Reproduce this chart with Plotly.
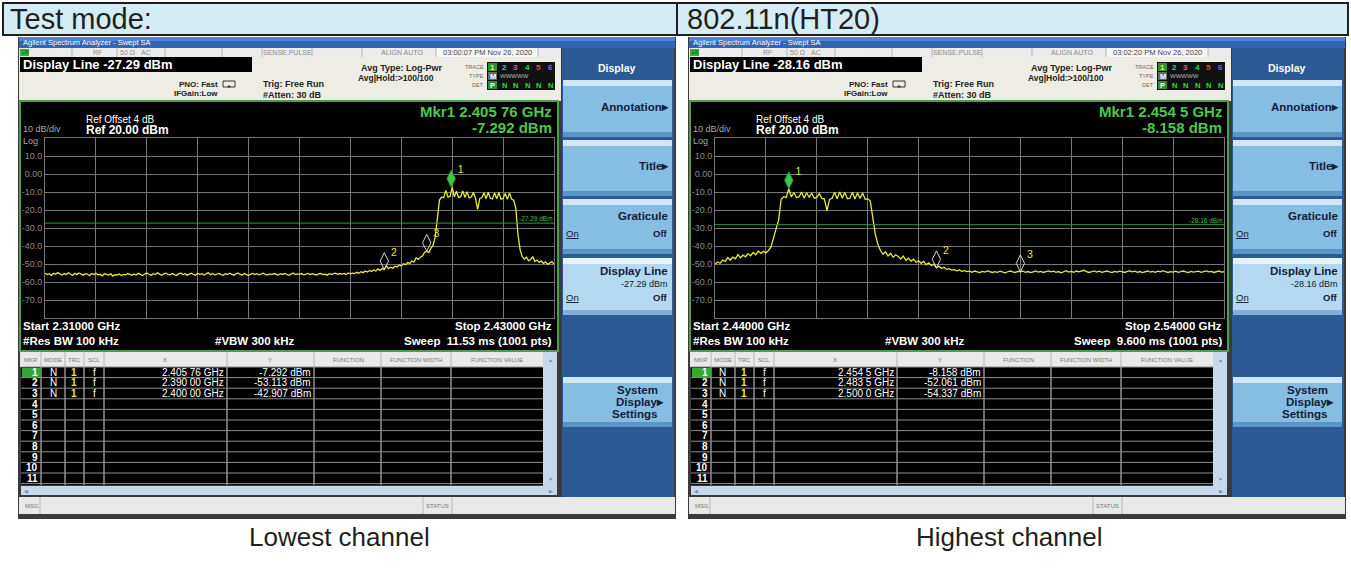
import numpy as np
import plotly.graph_objects as go

W, H = 1351, 581
FONT = "Liberation Sans, Arial, sans-serif"

# ---------------- data ----------------
STEP_GHZ = 0.0005   # analyzer sweep step used for the transcribed trace points

# Lowest channel trace (dBm), segment start frequencies in GHz
low_floor_start = 2.3100
low_floor = [
    -55.2, -55.9, -55.4, -56.3, -55.1, -55.7, -54.8, -55.6, -56.1, -55.3,
    -55.8, -54.9, -55.5, -56.4, -55.2, -55.9, -55.0, -55.7, -56.2, -55.4,
    -55.6, -56.5, -55.3, -55.9, -55.1, -56.0, -55.7, -56.6, -55.4, -55.8,
    -56.2, -55.5, -56.7, -55.9, -56.1, -55.6, -56.4, -55.8, -56.0, -55.3,
    -55.9, -56.3, -55.5, -56.1, -55.2, -55.8, -56.4, -55.6, -55.0, -55.7,
    -56.2, -55.4, -55.9, -54.9, -55.6, -56.3, -55.5, -55.1, -55.8, -56.0,
    -55.3, -55.7, -56.4, -55.5, -55.0, -55.9, -55.4, -56.2, -55.6, -55.1,
    -55.8, -56.3, -55.2, -55.7, -55.4, -56.1, -55.5, -54.8, -55.9, -55.3,
    -56.0, -55.6, -55.2, -55.9, -56.3, -55.4, -55.8, -55.1, -55.7, -56.2,
    -55.5, -55.0, -55.8, -56.1, -55.3, -55.7, -56.4, -55.6, -55.2, -55.9,
    -55.4, -56.0, -55.7, -55.1, -55.8, -56.2, -55.5, -55.9, -55.3, -55.6,
    -56.1, -55.4, -55.8, -55.2, -55.7, -56.3, -55.6, -55.0, -55.9, -55.5,
    -55.8, -55.3, -56.0, -55.6, -55.2, -55.9, -55.4, -55.7, -56.1, -55.5,
    -55.3, -55.9, -55.6, -56.2, -55.4, -55.8, -55.5, -55.1, -55.7, -55.3,
    -55.6, -55.2, -55.8, -55.0, -55.5, -55.1,
]
low_rise_start = 2.3830
low_rise = [
    -55.3, -54.6, -55.1, -54.3, -54.8, -53.9, -54.5, -53.6, -54.2, -53.3,
    -53.9, -52.7, -53.5, -52.4, -53.1, -51.0, -52.6, -51.8, -52.3, -51.2,
    -51.7, -50.6, -51.1, -49.9, -50.4, -49.2, -49.7, -48.3, -48.9, -46.5,
    -47.4, -46.2, -45.6, -43.5, -42.9, -43.6, -41.2, -39.5, -35.0, -26.0,
    -14.5,
]
low_band_start = 2.4035
low_band = [
    -12.8, -13.2, -9.1, -12.9, -12.5, -7.3, -12.7, -9.6, -13.1, -12.6,
    -9.4, -13.0, -9.8, -13.3, -12.8, -10.2, -13.4, -19.6, -13.6, -13.2,
    -10.4, -13.7, -10.1, -13.5, -13.9, -10.6, -13.8, -10.3, -14.0, -13.6,
    -10.8, -14.1, -10.5, -13.9, -14.6, -19.0, -33.5,
]
low_tail_start = 2.4220
low_tail = [
    -42.0, -45.8, -47.3, -46.1, -48.2, -47.5, -45.9, -48.6, -47.8, -49.1,
    -48.3, -49.6, -48.8, -50.2, -49.4, -48.7, -50.1,
]

# Highest channel trace (dBm)
high_low_start = 2.4400
high_low = [
    -50.2, -48.9, -49.6, -47.8, -48.5, -46.4, -47.9, -46.2, -47.1, -44.8,
    -46.5, -45.1, -46.0, -44.2, -45.4, -43.6, -44.9, -42.8, -44.1, -43.0,
    -43.8, -42.5,
]
high_rise_start = 2.4510
high_rise = [-40.5, -36.0, -30.5, -25.5, -14.0]
high_band_start = 2.4535
high_band = [
    -12.6, -13.0, -8.2, -12.8, -10.3, -13.1, -12.7, -10.0, -13.3, -10.4,
    -12.9, -10.7, -13.4, -13.0, -10.9, -13.6, -13.9, -20.3, -14.1, -13.5,
    -10.2, -13.7, -10.0, -13.4, -10.3, -13.8, -13.5, -10.1, -13.9, -10.4,
    -13.6, -10.6, -14.0, -13.8, -14.9,
]
high_fall_start = 2.4710
high_fall = [-24.0, -33.5, -39.0, -42.5, -44.6]
high_shoulder_start = 2.4735
high_shoulder = [
    -43.2, -45.5, -44.1, -46.3, -44.9, -45.8, -47.2, -45.6, -47.9, -46.8,
    -48.4, -47.3, -49.0, -48.2, -49.6, -48.5, -50.3, -49.4, -50.8, -50.1,
    -52.1, -51.2, -52.5, -51.8, -53.0, -52.6, -53.4, -53.1, -53.8, -53.3,
    -54.1, -53.7, -54.2,
]
high_floor_start = 2.4900
high_floor = [
    -54.0, -54.6, -53.9, -54.4, -54.8, -54.1, -54.5, -53.8, -54.3, -54.7,
    -54.2, -54.6, -54.0, -54.5, -54.9, -54.3, -53.9, -54.4, -54.7, -54.1,
    -54.3, -54.0, -54.6, -54.2, -54.8, -54.4, -53.9, -54.5, -54.1, -54.7,
    -54.3, -53.8, -54.4, -54.0, -54.6, -54.2, -54.9, -54.3, -53.7, -54.5,
    -54.1, -54.6, -53.9, -54.4, -54.0, -53.5, -54.2, -54.7, -54.3, -53.8,
    -54.5, -54.0, -54.6, -54.2, -53.9, -54.4, -54.8, -54.1, -54.5, -54.0,
    -54.3, -54.7, -54.1, -53.8, -54.4, -54.0, -54.6, -54.2, -54.8, -54.3,
    -53.9, -54.5, -54.1, -54.6, -54.0, -54.4, -53.7, -54.3, -54.7, -54.2,
    -54.5, -54.0, -54.6, -54.3, -53.9, -54.4, -54.8, -54.1, -54.5, -54.2,
    -54.0, -54.6, -54.3, -53.8, -54.4, -54.1, -54.7, -54.2, -53.9, -54.5,
    -54.3,
]

# markers
low_marker_freq = [2.40576, 2.39000, 2.40000]
low_marker_level = [-7.292, -53.113, -42.907]
high_marker_freq = [2.4545, 2.4835, 2.5000]
high_marker_level = [-8.158, -52.061, -54.337]
marker_names = ["1", "2", "3"]

# axes
low_span = [2.310, 2.430]
high_span = [2.440, 2.540]
ref_level = 20.0
bottom_level = -80.0
y_tick_vals = [10, 0, -10, -20, -30, -40, -50, -60, -70]
y_tick_text = ["10.0", "0.00", "-10.0", "-20.0", "-30.0", "-40.0", "-50.0", "-60.0", "-70.0"]

low_display_line = -27.29
high_display_line = -28.16

low_table_x = ["2.405 76 GHz", "2.390 00 GHz", "2.400 00 GHz"]
low_table_y = ["-7.292 dBm", "-53.113 dBm", "-42.907 dBm"]
high_table_x = ["2.454 5 GHz", "2.483 5 GHz", "2.500 0 GHz"]
high_table_y = ["-8.158 dBm", "-52.061 dBm", "-54.337 dBm"]


def sweep(segments):
    fs, vs = [], []
    for start, vals in segments:
        fs.extend(start + STEP_GHZ * np.arange(len(vals)))
        vs.extend(vals)
    return np.round(np.array(fs), 5), np.array(vs)


low_f, low_v = sweep([(low_floor_start, low_floor), (low_rise_start, low_rise),
                      (low_band_start, low_band), (low_tail_start, low_tail)])
high_f, high_v = sweep([(high_low_start, high_low), (high_rise_start, high_rise),
                        (high_band_start, high_band), (high_fall_start, high_fall),
                        (high_shoulder_start, high_shoulder), (high_floor_start, high_floor)])

# ---------------- drawing helpers ----------------
shapes, annotations = [], []


def R(x0, y0, x1, y1, fill, line=None, lw=0):
    shapes.append(dict(type="rect", xref="paper", yref="paper",
                       x0=x0 / W, x1=x1 / W, y0=1 - y1 / H, y1=1 - y0 / H,
                       fillcolor=fill, line=dict(color=line if line else fill, width=lw),
                       layer="below"))


def L(x0, y0, x1, y1, color, w=1):
    shapes.append(dict(type="line", xref="paper", yref="paper",
                       x0=x0 / W, x1=x1 / W, y0=1 - y0 / H, y1=1 - y1 / H,
                       line=dict(color=color, width=w), layer="below"))


def T(x, y, s, size, color, anchor="left", bold=False, family=FONT, align="left"):
    annotations.append(dict(xref="paper", yref="paper", x=x / W, y=1 - y / H,
                            text=f"<b>{s}</b>" if bold else s, showarrow=False,
                            xanchor=anchor, yanchor="middle", borderpad=0, align=align,
                            font=dict(family=family, size=size, color=color)))


def button(x0, y0, x1, y1, selected=False):
    if selected:
        R(x0, y0, x1, y1, "#b3d8f0")
        R(x0, y0, x1, y0 + 6, "#e6f3fb")
        R(x0, y1 - 5, x1, y1, "#7fb2da")
    else:
        R(x0, y0, x1, y1, "#86bde3")
        R(x0, y0, x1, y0 + 6, "#cfe7f7")
        R(x0, y1 - 5, x1, y1, "#5b95c6")


def shot(ox, P):
    X = lambda v: v + ox
    # frame
    R(X(18), 37, X(676), 519, "#3b3b3b")
    # title bar
    R(X(19), 37, X(675), 48, "#3464b5")
    R(X(19), 37, X(675), 41, "#5282d0")
    T(X(22), 42.5, "Agilent Spectrum Analyzer - Swept SA", 7.5, "#ffffff")
    # status row
    R(X(19), 48, X(561), 57, "#ececec")
    R(X(436), 48, X(538), 57, "#f7f7f7")
    R(X(20), 49, X(29), 56, "#36b236")
    T(X(20.5), 52.5, "LXI", 4.5, "#0b3b0b")
    for sx in [72, 117, 165, 222, 262, 312, 362, 436, 538]:
        L(X(sx), 48, X(sx), 57, "#b5b5b5")
    T(X(97), 52.5, "RF", 7, "#8a8a8a", "center")
    T(X(127), 52.5, "50 Ω", 7, "#8a8a8a", "center")
    T(X(146), 52.5, "AC", 7, "#8a8a8a", "center")
    T(X(287), 52.5, "SENSE:PULSE", 7, "#8a8a8a", "center")
    T(X(402), 52.5, "ALIGN AUTO", 7, "#8a8a8a", "center")
    T(X(487), 52.5, P["timestamp"], 7.5, "#444444", "center")
    # info area
    R(X(19), 57, X(561), 101, "#eeede5")
    R(X(20), 57, X(252), 72, "#000000")
    T(X(22), 64.5, f"Display Line {P['dl']:.2f} dBm", 13, "#ffffff", bold=True)
    T(X(219), 84, "PNO: Fast", 8, "#222222", "right", True)
    T(X(219), 94, "IFGain:Low", 8, "#222222", "right", True)
    R(X(223), 81, X(235), 87, "rgba(0,0,0,0)", "#333333", 1)
    T(X(229), 85.5, "▸", 6, "#333333", "center")
    T(X(262), 84, "Trig: Free Run", 9, "#222222", "left", True)
    T(X(262), 95, "#Atten: 30 dB", 9, "#222222", "left", True)
    T(X(360), 68, "Avg Type: Log-Pwr", 9, "#222222", "left", True)
    T(X(357), 78, "Avg|Hold:&gt;100/100", 8.5, "#222222", "left", True)
    T(X(485), 67, "TRACE", 5.5, "#666666", "right")
    T(X(485), 76, "TYPE", 5.5, "#666666", "right")
    T(X(485), 85, "DET", 5.5, "#666666", "right")
    R(X(487), 62, X(555), 90, "#111111")
    cols = [492.5, 504, 515.5, 527, 538.5, 550]
    tcol = ["#f0f040", "#33c8ea", "#e05aa0", "#3ed43e", "#e84848", "#6f6fff"]
    R(X(488), 63, X(497), 71, "#2d8f2d")
    for i, c in enumerate(cols):
        T(X(c), 67, str(i + 1), 8, tcol[i], "center", True)
    R(X(488), 72, X(497), 80, "#666666")
    T(X(492.5), 76, "M", 7.5, "#ffffff", "center", True)
    T(X(499), 76, "WWWWW", 6, "#bbbbbb", "left")
    R(X(488), 81, X(497), 89, "#2d8f2d")
    T(X(492.5), 85, "P", 7.5, "#ffffff", "center", True)
    for c in cols[1:]:
        T(X(c), 85, "N", 7.5, "#3ed43e", "center", True)

    # soft key panel
    R(X(562), 48, X(674), 497, "#2b5a95")
    T(X(617), 68, "Display", 10.5, "#ffffff", "center", True)
    button(X(563), 80, X(672), 137)
    button(X(563), 140, X(672), 196)
    button(X(563), 199, X(672), 254)
    button(X(563), 258, X(672), 315, selected=True)
    button(X(563), 377, X(672), 427)
    kc = "#13203a"
    T(X(670), 107, "Annotation▸", 11.5, kc, "right", True)
    T(X(670), 166, "Title▸", 11.5, kc, "right", True)
    T(X(669), 216, "Graticule", 11.5, kc, "right", True)
    T(X(565), 233, "<u>On</u>", 9.5, kc, "left")
    T(X(669), 233, "Off", 9.5, kc, "right", True)
    T(X(669), 271, "Display Line", 11.5, kc, "right", True)
    T(X(669), 284, f"{P['dl']:.2f} dBm", 9, kc, "right")
    T(X(565), 297, "<u>On</u>", 9.5, kc, "left")
    T(X(669), 297, "Off", 9.5, kc, "right", True)
    T(X(637), 390, "System", 11.5, kc, "center", True)
    T(X(640), 402, "Display▸", 11.5, kc, "center", True)
    T(X(634), 414, "Settings", 11.5, kc, "center", True)

    # plot frame
    R(X(20), 101, X(558), 351, "#000000", "#4aa04a", 2)
    T(X(85), 119, "Ref Offset 4 dB", 10, "#ffffff")
    T(X(85), 130.5, "Ref 20.00 dBm", 12, "#ffffff", bold=True)
    T(X(22), 134.5, "10 dB/div<br>Log", 9, "#a8a8a8")
    T(X(553), 112, f"Mkr1 {P['mx']}", 15, "#4fc64f", "right", True)
    T(X(553), 128, P["my"], 15, "#4fc64f", "right", True)
    T(X(22), 326, P["start"], 11.5, "#ffffff", "left", True)
    T(X(553), 326, P["stop"], 11.5, "#ffffff", "right", True)
    T(X(22), 341, "#Res BW 100 kHz", 11.5, "#ffffff", "left", True)
    T(X(255), 341, "#VBW 300 kHz", 11.5, "#ffffff", "center", True)
    T(X(553), 341, P["sweep"], 11.5, "#ffffff", "right", True)

    # marker table
    R(X(20), 352, X(557), 367, "#e9e9e9")
    R(X(21), 367, X(543), 485, "#000000")
    R(X(543), 352, X(557), 486, "#c9d7ea")
    R(X(21), 486, X(557), 495, "#c9d7ea")
    T(X(550), 360, "▲", 5, "#6d8fbf", "center")
    T(X(550), 479, "▼", 5, "#6d8fbf", "center")
    T(X(26), 490.5, "◀", 5, "#6d8fbf", "center")
    T(X(551), 490.5, "▶", 5, "#6d8fbf", "center")
    colx = [41, 65, 84, 104, 227, 314, 381, 451]
    for cx in colx:
        L(X(cx), 352, X(cx), 367, "#b8b8b8")
        L(X(cx), 367, X(cx), 485, "#d8d8d8")
    for k in range(12):
        yy = 367 + 10.6 * k
        L(X(21), yy, X(543), yy, "#8f8f8f")
    hdr = [(31, "MKR"), (53, "MODE"), (74, "TRC"), (94, "SCL"), (165, "X"), (270, "Y"),
           (348, "FUNCTION"), (416, "FUNCTION WIDTH"), (497, "FUNCTION VALUE")]
    for hx, hs in hdr:
        T(X(hx), 360, hs, 6, "#777777", "center")
    R(X(22), 368, X(41), 377, "#33a833")
    for r in range(11):
        yy = 372.3 + 10.6 * r
        T(X(39), yy, str(r + 1), 10, "#ffffff", "right", True)
    for r in range(3):
        yy = 372.3 + 10.6 * r
        T(X(53), yy, "N", 10, "#ffffff", "center")
        T(X(74), yy, "1", 10, "#e8e83a", "center", True)
        T(X(94), yy, "f", 10, "#ffffff", "center")
        T(X(225), yy, P["tx"][r], 10, "#ffffff", "right")
        T(X(312), yy, P["ty"][r], 10, "#ffffff", "right")

    # message bar
    R(X(19), 497, X(675), 514, "#e8e8e8")
    L(X(40), 497, X(40), 514, "#b8b8b8")
    L(X(423), 497, X(423), 514, "#b8b8b8")
    L(X(452), 497, X(452), 514, "#b8b8b8")
    T(X(24), 505.5, "MSG", 6, "#777777")
    T(X(437.5), 505.5, "STATUS", 6, "#777777", "center")

    # caption
    T(X(339), 537, P["caption"], 26, "#231f20", "center")


# header boxes
R(3, 3, 677, 35, "#d4edf5", "#1f1f1f", 2)
R(677, 3, 1348, 35, "#d4edf5", "#1f1f1f", 2)
T(9, 19.5, "Test mode:", 29, "#231f20")
T(686, 19.5, "802.11n(HT20)", 29, "#231f20")

shot(0, dict(timestamp="03:00:07 PM Nov 26, 2020", dl=low_display_line,
             mx="2.405 76 GHz", my="-7.292 dBm", start="Start 2.31000 GHz",
             stop="Stop 2.43000 GHz", sweep="Sweep  11.53 ms (1001 pts)",
             tx=low_table_x, ty=low_table_y, caption="Lowest channel"))
shot(670, dict(timestamp="03:02:20 PM Nov 26, 2020", dl=high_display_line,
               mx="2.454 5 GHz", my="-8.158 dBm", start="Start 2.44000 GHz",
               stop="Stop 2.54000 GHz", sweep="Sweep  9.600 ms (1001 pts)",
               tx=high_table_x, ty=high_table_y, caption="Highest channel"))

# ---------------- traces ----------------
fig = go.Figure()
YELLOW = "#e8e83a"
MARK_LIFT_DB = 4.7   # diamond sits with its lower tip on the trace
LABEL_LIFT_DB = 4.5  # marker number sits above the diamond centre


def add_panel(f, v, mf, mv, dl, xa, ya):
    fig.add_trace(go.Scatter(x=f, y=v, mode="lines", line=dict(color=YELLOW, width=1.3),
                             xaxis=xa, yaxis=ya, hoverinfo="skip", showlegend=False))
    fig.add_trace(go.Scatter(x=mf[:1], y=[m + MARK_LIFT_DB for m in mv[:1]], mode="markers",
                             marker=dict(symbol="diamond-tall", size=12, color="#3cc84c",
                                         line=dict(color="#2a9a38", width=1)),
                             xaxis=xa, yaxis=ya, hoverinfo="skip", showlegend=False, cliponaxis=False))
    fig.add_trace(go.Scatter(x=mf[1:], y=[m + MARK_LIFT_DB for m in mv[1:]], mode="markers",
                             marker=dict(symbol="diamond-tall-open", size=12, color="#d4d4d4",
                                         line=dict(width=1)),
                             xaxis=xa, yaxis=ya, hoverinfo="skip", showlegend=False, cliponaxis=False))
    fig.add_trace(go.Scatter(x=mf, y=[m + MARK_LIFT_DB + LABEL_LIFT_DB for m in mv],
                             mode="markers+text", marker=dict(size=9, opacity=0),
                             text=marker_names, textposition="middle right",
                             textfont=dict(color=YELLOW, size=10.5, family=FONT),
                             xaxis=xa, yaxis=ya, hoverinfo="skip", showlegend=False, cliponaxis=False))
    xr = xa + " domain"
    shapes.append(dict(type="line", xref=xr, yref=ya, x0=0, x1=1, y0=dl, y1=dl,
                       line=dict(color="#2f9a3f", width=1)))
    annotations.append(dict(xref=xr, yref=ya, x=1, y=dl, text=f"{dl:.2f} dBm", showarrow=False,
                            xanchor="right", yanchor="bottom", borderpad=0,
                            font=dict(family=FONT, size=6.5, color="#3fbf4f")))


add_panel(low_f, low_v, low_marker_freq, low_marker_level, low_display_line, "x", "y")
add_panel(high_f, high_v, high_marker_freq, high_marker_level, high_display_line, "x2", "y2")

grid = "#767676"
xcommon = dict(showgrid=True, gridcolor=grid, gridwidth=1, zeroline=False, showticklabels=False,
               showline=True, linecolor=grid, mirror=True, ticks="", fixedrange=True)
ycommon = dict(showgrid=True, gridcolor=grid, gridwidth=1, zeroline=False, range=[bottom_level, ref_level],
               tickmode="array", tickvals=y_tick_vals, ticktext=y_tick_text, ticks="",
               tickfont=dict(family=FONT, size=9, color="#8a8a8a"),
               showline=True, linecolor=grid, mirror=True, fixedrange=True)
ydom = [1 - 318 / H, 1 - 138 / H]

fig.update_layout(
    width=W, height=H, autosize=False,
    margin=dict(l=0, r=0, t=0, b=0),
    paper_bgcolor="#ffffff", plot_bgcolor="#000000",
    showlegend=False,
    xaxis=dict(domain=[45 / W, 554 / W], range=low_span, tick0=low_span[0], dtick=0.012,
               anchor="y", **xcommon),
    yaxis=dict(domain=ydom, anchor="x", **ycommon),
    xaxis2=dict(domain=[715 / W, 1224 / W], range=high_span, tick0=high_span[0], dtick=0.010,
                anchor="y2", **xcommon),
    yaxis2=dict(domain=ydom, anchor="x2", **ycommon),
    shapes=shapes, annotations=annotations,
)

fig.write_html("out.html", config={"displayModeBar": False, "staticPlot": True},
               post_script="document.body.style.margin='0';document.body.style.overflow='hidden';")
